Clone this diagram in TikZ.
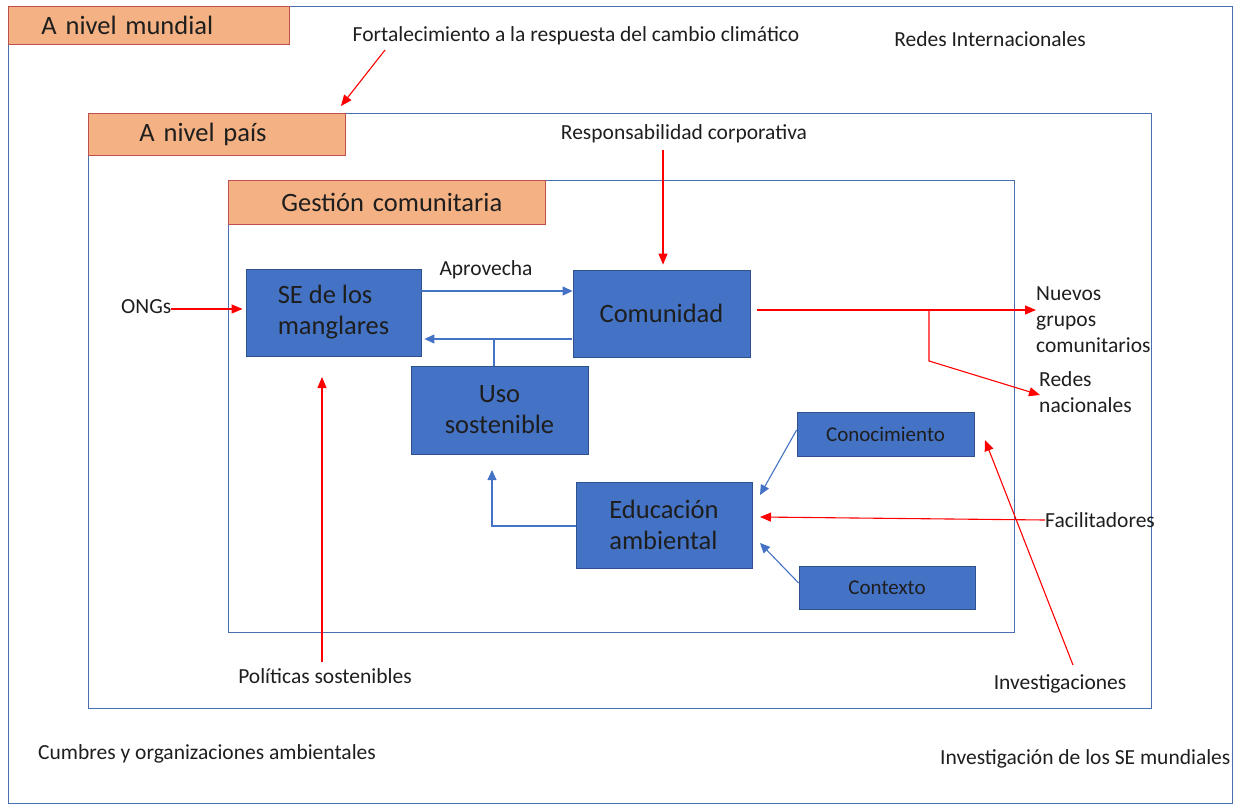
\documentclass[tikz,border=0pt]{standalone}
\usepackage{fontspec}
\setmainfont{Carlito}
\usetikzlibrary{arrows.meta}
\definecolor{salmon}{HTML}{F4B183}
\definecolor{hdrline}{HTML}{C0504D}
\definecolor{boxblue}{HTML}{4472C4}
\definecolor{boxline}{HTML}{2F528F}
\definecolor{frameline}{HTML}{4A6FB0}
\definecolor{arrred}{HTML}{FF0000}
\definecolor{txt}{HTML}{1E1E1E}
\begin{document}
\begin{tikzpicture}[x=1pt,y=-1pt,
  frame/.style={draw=frameline, line width=0.9pt},
  hdr/.style={draw=hdrline, fill=salmon, line width=0.9pt, font=\fontsize{26.5}{30}\selectfont, align=left, anchor=north west, inner ysep=0pt, text=txt},
  box/.style={draw=boxline, fill=boxblue, line width=0.8pt, font=\fontsize{26.5}{31}\selectfont, inner sep=0pt, text=txt},
  sbox/.style={box, font=\fontsize{21}{24}\selectfont},
  lbl/.style={font=\fontsize{21.5}{26}\selectfont, inner sep=0pt, text=txt},
  barr/.style={draw=boxblue, line width=1.1pt, -{Triangle[length=10pt,width=9pt]}},
  bline/.style={draw=boxblue, line width=1.1pt},
  rarr/.style={draw=arrred, line width=1.1pt, -{Triangle[length=11pt,width=9pt]}},
  rline/.style={draw=arrred, line width=1.1pt}]
\useasboundingbox (0,0) rectangle (1238,805);

% frames
\draw[frame] (8,6) rectangle (1232,803);
\draw[frame] (88,113) rectangle (1151,708);
\draw[frame] (228,180) rectangle (1014,632);

% headers
\node[hdr, minimum height=38, inner xsep=33, text width=215] (mundial) at (8,6) {\mbox{A nivel mundial}};
\node[hdr, minimum height=42, inner xsep=51, text width=155] (pais) at (88,113) {\mbox{A nivel país}};
\node[hdr, minimum height=44, inner xsep=53, text width=211] (gestion) at (228,180) {\mbox{Gestión comunitaria}};

% boxes
\node[box, minimum width=175, minimum height=87, align=left] (se) at (333.5,312.5) {SE de los\\manglares};
\node[box, minimum width=177, minimum height=87] (com) at (661.5,313.5) {Comunidad};
\node[box, minimum width=177, minimum height=88, align=center] (uso) at (499.5,410) {Uso\\sostenible};
\node[box, minimum width=176, minimum height=86, align=left] (edu) at (664,525) {Educación\\ambiental};
\node[sbox, minimum width=177, minimum height=44] (con) at (885.5,434) {Conocimiento};
\node[sbox, minimum width=176, minimum height=43] (ctx) at (887,587.5) {Contexto};

% labels
\node[lbl] (fort) at (576,36) {Fortalecimiento a la respuesta del cambio climático};
\node[lbl] (redint) at (990,39) {Redes Internacionales};
\node[lbl] (resp) at (684,134) {Responsabilidad corporativa};
\node[lbl, anchor=west] (ongs) at (121,307) {ONGs};
\node[lbl] (apro) at (486,270) {Aprovecha};
\node[lbl, anchor=west, align=left] (nuevos) at (1036,320) {Nuevos\\grupos\\comunitarios};
\node[lbl, anchor=west, align=left] (rednac) at (1039,392) {Redes\\nacionales};
\node[lbl, anchor=west] (fac) at (1045,520) {Facilitadores};
\node[lbl] (inv) at (1060,684) {Investigaciones};
\node[lbl] (pol) at (325,676) {Políticas sostenibles};
\node[lbl, anchor=west] (cumbres) at (38,754) {Cumbres y organizaciones ambientales};
\node[lbl, anchor=west] (invse) at (940,759) {Investigación de los SE mundiales};

% coordinates
\coordinate (fortS) at (385,50);
\coordinate (paisT) at (341,106);
\coordinate (respS) at (663,150);
\coordinate (br) at (929,310);
\coordinate (brD) at (929,361);
\coordinate (rednacT) at (1040,395);
\coordinate (invS) at (1073,665);
\coordinate (conT) at (985,440);
\coordinate (usoJ) at (494,339);
\coordinate (eduJ) at (492,526);

% blue connectors
\draw[barr] (se.east |- 0,291) -- (com.west |- 0,291);
\draw[barr] (572,339) -- ([xshift=3pt]se.east |- 0,339);
\draw[bline] (usoJ) -- (usoJ |- uso.north);
\draw[barr] (edu.west |- eduJ) -- (eduJ) -- (492,470);
\draw[barr] (con.west |- 0,430) -- (760,495);
\draw[barr] (ctx.west |- 0,583) -- (760,543);

% red connectors
\draw[rarr] (fortS) -- (paisT);
\draw[rarr] (respS) -- ([yshift=5pt]respS |- com.north);
\draw[rarr] (ongs.east |- 0,309) -- ([xshift=-3pt]se.west |- 0,309);
\draw[rarr] (322,662) -- (322,377);
\draw[rarr] (757,310) -- (nuevos.west |- 0,310);
\draw[rarr] (br) -- (brD) -- (rednacT);
\draw[rarr] (fac.west) -- (760,517);
\draw[rarr] (invS) -- (conT);
\end{tikzpicture}
\end{document}
